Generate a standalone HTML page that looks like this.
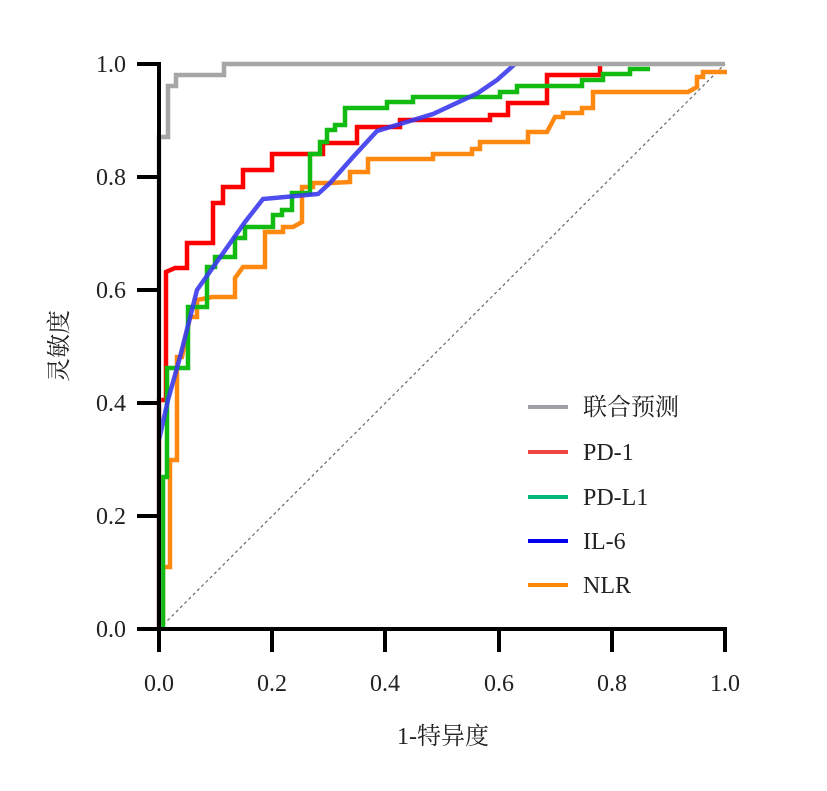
<!DOCTYPE html>
<html><head><meta charset="utf-8"><style>
body{margin:0;background:#fff}
svg text{font-family:"Liberation Serif","Noto Serif CJK SC",serif;font-size:24px;fill:#222}
</style></head><body>
<svg width="827" height="786" viewBox="0 0 827 786">
<line x1="159" y1="629" x2="725" y2="64" stroke="#666" stroke-width="1.2" stroke-dasharray="3,3"/>
<g fill="none" stroke-width="4.5" stroke-linejoin="miter">
<polyline stroke="#ff8811" points="163,629 163,567 170,567 170,460 177,460 177,357 182,357 190,317 197,317 197,300 212,297 235,297 235,278 243,267 265,267 265,232 283,232 283,227 293,227 302,222 302,187 313,187 313,183 330,183 350,182 350,172 368,172 368,159 433,159 433,154 472,154 472,149 480,149 480,142 528,142 528,132 547,132 555,117 563,117 563,113 582,113 582,108 593,108 593,103 593,92 688,92 697,87 697,77 703,77 703,72 727,72"/>
<polyline stroke="#ff0000" points="159,629 159,400 166,400 166,272 175,268 187,268 187,243 213,243 213,203 223,203 223,187 243,187 243,170 272,170 272,154 323,154 323,143 330,143 357,143 357,127 400,127 400,120 490,120 490,115 508,115 508,103 547,103 547,75 600,75 600,64"/>
<polyline stroke="#11bb11" points="163,629 163,477 167,477 167,368 188,368 188,312 188,307 207,307 207,267 215,267 215,257 235,257 235,238 245,238 245,227 273,227 273,215 282,215 282,210 292,210 292,193 310,193 310,154 320,154 320,142 327,142 327,130 335,130 335,125 345,125 345,108 387,108 387,102 413,102 413,97 500,97 500,92 517,92 517,86 582,86 582,80 603,80 603,74 630,74 630,69 650,69"/>
<polyline stroke="#3a3aee" stroke-opacity="0.9" points="159,440 168,400 180,357 197,290 221,256 245,222 263,199 318,194 330,183 353,157 377,131 433,114 478,93 497,80 515,64"/>
<polyline stroke="#a6a6a6" points="159,629 159,137 168,137 168,86 176,86 176,75 224,75 224,64 725,64"/>
</g>
<g stroke="#000" stroke-width="4">
<line x1="159" y1="62" x2="159" y2="631"/>
<line x1="157" y1="629" x2="727" y2="629"/>
<line x1="137" y1="64" x2="159" y2="64"/><line x1="137" y1="177" x2="159" y2="177"/><line x1="137" y1="290" x2="159" y2="290"/><line x1="137" y1="403" x2="159" y2="403"/><line x1="137" y1="516" x2="159" y2="516"/><line x1="137" y1="629" x2="159" y2="629"/>
<line x1="159" y1="629" x2="159" y2="652"/><line x1="272" y1="629" x2="272" y2="652"/><line x1="385" y1="629" x2="385" y2="652"/><line x1="499" y1="629" x2="499" y2="652"/><line x1="612" y1="629" x2="612" y2="652"/><line x1="725" y1="629" x2="725" y2="652"/>
</g>
<g text-anchor="end">
<text x="126" y="72">1.0</text><text x="126" y="185">0.8</text><text x="126" y="298">0.6</text><text x="126" y="411">0.4</text><text x="126" y="524">0.2</text><text x="126" y="637">0.0</text>
</g>
<g text-anchor="middle">
<text x="159" y="691">0.0</text><text x="272" y="691">0.2</text><text x="385" y="691">0.4</text><text x="499" y="691">0.6</text><text x="612" y="691">0.8</text><text x="725" y="691">1.0</text>
<text x="443" y="744">1-特异度</text>
<text transform="translate(67,346) rotate(-90)">灵敏度</text>
</g>
<g stroke-width="4">
<line x1="528" y1="407" x2="568" y2="407" stroke="#a0a0a4"/>
<line x1="528" y1="452" x2="568" y2="452" stroke="#ee4444"/>
<line x1="528" y1="497" x2="568" y2="497" stroke="#00b87a"/>
<line x1="528" y1="541" x2="568" y2="541" stroke="#0000ee"/>
<line x1="528" y1="585" x2="568" y2="585" stroke="#ff8800"/>
</g>
<text x="583" y="415">联合预测</text>
<text x="583" y="460">PD-1</text>
<text x="583" y="505">PD-L1</text>
<text x="583" y="549">IL-6</text>
<text x="583" y="593">NLR</text>
</svg>
</body></html>
